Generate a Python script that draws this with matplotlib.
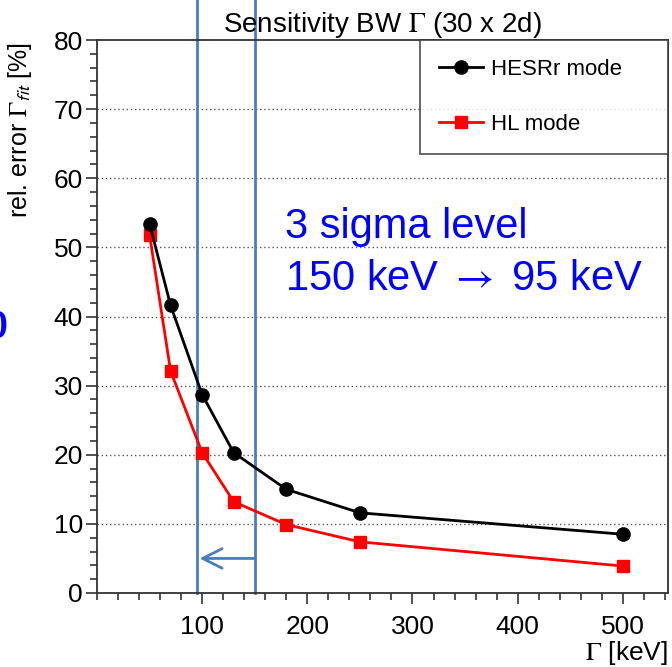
import matplotlib.pyplot as plt
from matplotlib.ticker import MultipleLocator

plt.rcParams['font.family'] = ['Liberation Sans', 'DejaVu Sans']

# data
gamma_kev = [50, 70, 100, 130, 180, 250, 500]
hesrr_err = [53.4, 41.6, 28.7, 20.3, 15.0, 11.6, 8.5]
hl_err = [51.8, 32.1, 20.3, 13.2, 9.9, 7.4, 3.9]

sigma_old = 150
sigma_new = 95
arrow_y = 5

fig = plt.figure(figsize=(6.72, 6.67), dpi=100)
ax = fig.add_axes([97 / 672, 1 - 593 / 667, 571 / 672, 553 / 667])

ax.plot(gamma_kev, hesrr_err, color='black', marker='o', markersize=9.5,
        linewidth=2, label='HESRr mode', zorder=4)
ax.plot(gamma_kev, hl_err, color='red', marker='s', markersize=9,
        linewidth=2, label='HL mode', zorder=3)

ax.set_xlim(0, 543)
ax.set_ylim(0, 80)

# dotted horizontal grid
for yv in range(10, 80, 10):
    ax.axhline(yv, color='#555555', linestyle=(0, (1, 2)), linewidth=1, zorder=1)

# 3 sigma markers (go past the top of the axes)
for xv in (sigma_new, sigma_old):
    ax.axvline(xv, ymin=0, ymax=1.08, color='#4a7ebb', linewidth=2,
               clip_on=False, zorder=2)
ax.annotate('', xy=(sigma_new + 2.5, arrow_y), xytext=(sigma_old, arrow_y),
            arrowprops=dict(arrowstyle='->,head_length=1.4,head_width=0.7',
                            color='#4a7ebb', linewidth=2, shrinkA=0, shrinkB=0))

ax.text(285 / 672, 1 - 238 / 667, '3 sigma level', transform=fig.transFigure,
        color='#0000ff', fontsize=30, ha='left', va='baseline')
ax.text(285 / 672, 1 - 290 / 667, '150 keV $\\rightarrow$ 95 keV',
        transform=fig.transFigure, color='#0000ff', fontsize=30, ha='left',
        va='baseline', math_fontfamily='stix')
fig.text(7 / 672, 1 - 328 / 667, '0', color='#0000ff', fontsize=27,
         ha='right', va='center', fontweight='bold')

ax.xaxis.set_major_locator(MultipleLocator(100))
ax.xaxis.set_minor_locator(MultipleLocator(20))
ax.yaxis.set_major_locator(MultipleLocator(10))
ax.yaxis.set_minor_locator(MultipleLocator(2))
ax.tick_params(which='major', length=8, width=1.2, labelsize=19, color='#333333')
ax.tick_params(which='minor', length=5, width=1.2, color='#333333')
ax.tick_params(axis='x', pad=8)
ax.tick_params(axis='y', pad=2)
ax.set_xticks([100, 200, 300, 400, 500])
for sp in ax.spines.values():
    sp.set_color('#333333')
    sp.set_linewidth(1.3)

ax.set_title('Sensitivity BW $\\Gamma$ (30 x 2d)', fontsize=20, pad=3,
             math_fontfamily='stix')
fig.text(20 / 672, 1 - 130 / 667, 'rel. error $\\Gamma_{\\mathsf{fit}}$ [%]',
         rotation=90, fontsize=18, ha='center', va='center', math_fontfamily='stix')
fig.text(668 / 672, 1 - 653 / 667, '$\\Gamma$ [keV]', fontsize=19,
         ha='right', va='center', math_fontfamily='stix')

leg = ax.legend(loc='upper left', bbox_to_anchor=(0.5657, 1.0, 0.4343, 0.0),
                mode='expand', fontsize=16, frameon=True, fancybox=False,
                borderaxespad=0, handlelength=2.0, labelspacing=1.52,
                borderpad=0.85, handletextpad=0.35)
leg.get_frame().set_edgecolor('#333333')
leg.get_frame().set_linewidth(1.3)

fig.savefig('out.png', dpi=100)
